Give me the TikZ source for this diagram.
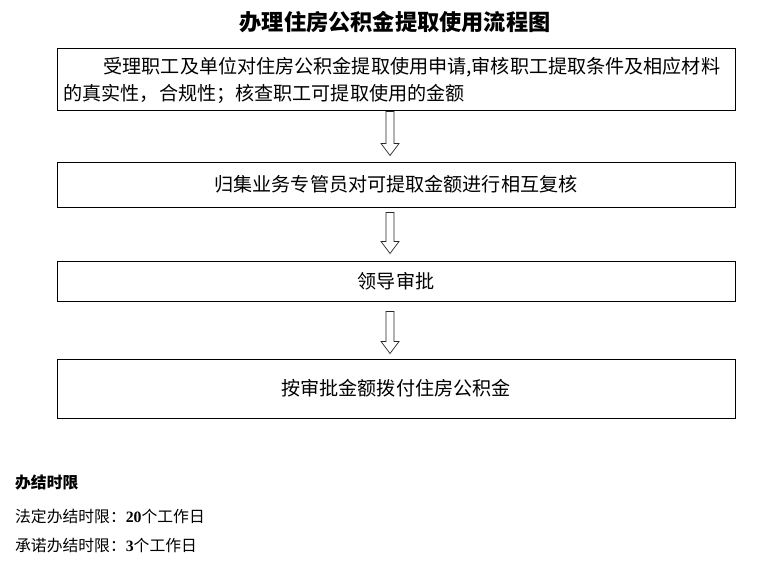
\documentclass[tikz,border=0pt]{standalone}
\usepackage{fontspec}
\newfontfamily\cjk{Noto Sans CJK SC}
\newfontfamily\digits{Liberation Serif}
\usepackage{tikz}
\usetikzlibrary{positioning}

\begin{document}
\begin{tikzpicture}[x=1pt, y=1pt,
        flowbox/.style={draw, line width=1pt, minimum width=678pt, inner sep=0pt, font=\cjk\fontsize{19.1}{27}\selectfont},
        hollowarrow/.style={draw=black!85, line width=0.7pt, to path={([xshift=-4pt]\tikztostart) -- ([xshift=-4pt,yshift=12pt]\tikztotarget) -- ([xshift=-9pt,yshift=12pt]\tikztotarget) -- (\tikztotarget) -- ([xshift=9pt,yshift=12pt]\tikztotarget) -- ([xshift=4pt,yshift=12pt]\tikztotarget) -- ([xshift=4pt]\tikztostart) -- cycle}},
        note/.style={anchor=west, inner sep=0pt, font=\cjk\fontsize{15.8}{18}\selectfont}]
            \useasboundingbox (0,0) rectangle (762,-575);
            \node [font=\cjk\bfseries\fontsize{22.2}{24}\selectfont] (title) at (395,-22) {办理住房公积金提取使用流程图};
            % the four steps, top to bottom
            \node [flowbox, minimum height=62pt, text width=665pt, align=left] (accept) at (396,-80) {\hspace*{2.1em}受理职工及单位对住房公积金提取使用申请,审核职工提取条件及相应材料\\的真实性，合规性；核查职工可提取使用的金额};
            \node [flowbox, minimum height=45pt, below=50pt of accept] (review) {归集业务专管员对可提取金额进行相互复核};
            \node [flowbox, minimum height=40pt, below=53pt of review] (approve) {领导审批};
            \node [flowbox, minimum height=59pt, below=57pt of approve] (payout) {按审批金额拨付住房公积金};

            % hollow arrows between the steps
            \coordinate (a1top) at ([xshift=-6pt]accept.south);
            \coordinate (a1tip) at ([xshift=-6pt, yshift=6pt]review.north);
            \coordinate (a2top) at ([xshift=-6pt, yshift=-5pt]review.south);
            \coordinate (a2tip) at ([xshift=-6pt, yshift=7pt]approve.north);
            \coordinate (a3top) at ([xshift=-6pt, yshift=-10pt]approve.south);
            \coordinate (a3tip) at ([xshift=-6pt, yshift=5pt]payout.north);
            \draw [hollowarrow] (a1top) to (a1tip);
            \draw [hollowarrow] (a2top) to (a2tip);
            \draw [hollowarrow] (a3top) to (a3tip);

            \node [note, font=\cjk\bfseries\fontsize{15.8}{18}\selectfont] (limit) at (15,-483) {办结时限};
            \node [note] (legal) at (15,-516) {法定办结时限：{\digits\bfseries 20}个工作日};
            \node [note] (promise) at (15,-546) {承诺办结时限：{\digits\bfseries 3}个工作日};
        \end{tikzpicture}
\end{document}
